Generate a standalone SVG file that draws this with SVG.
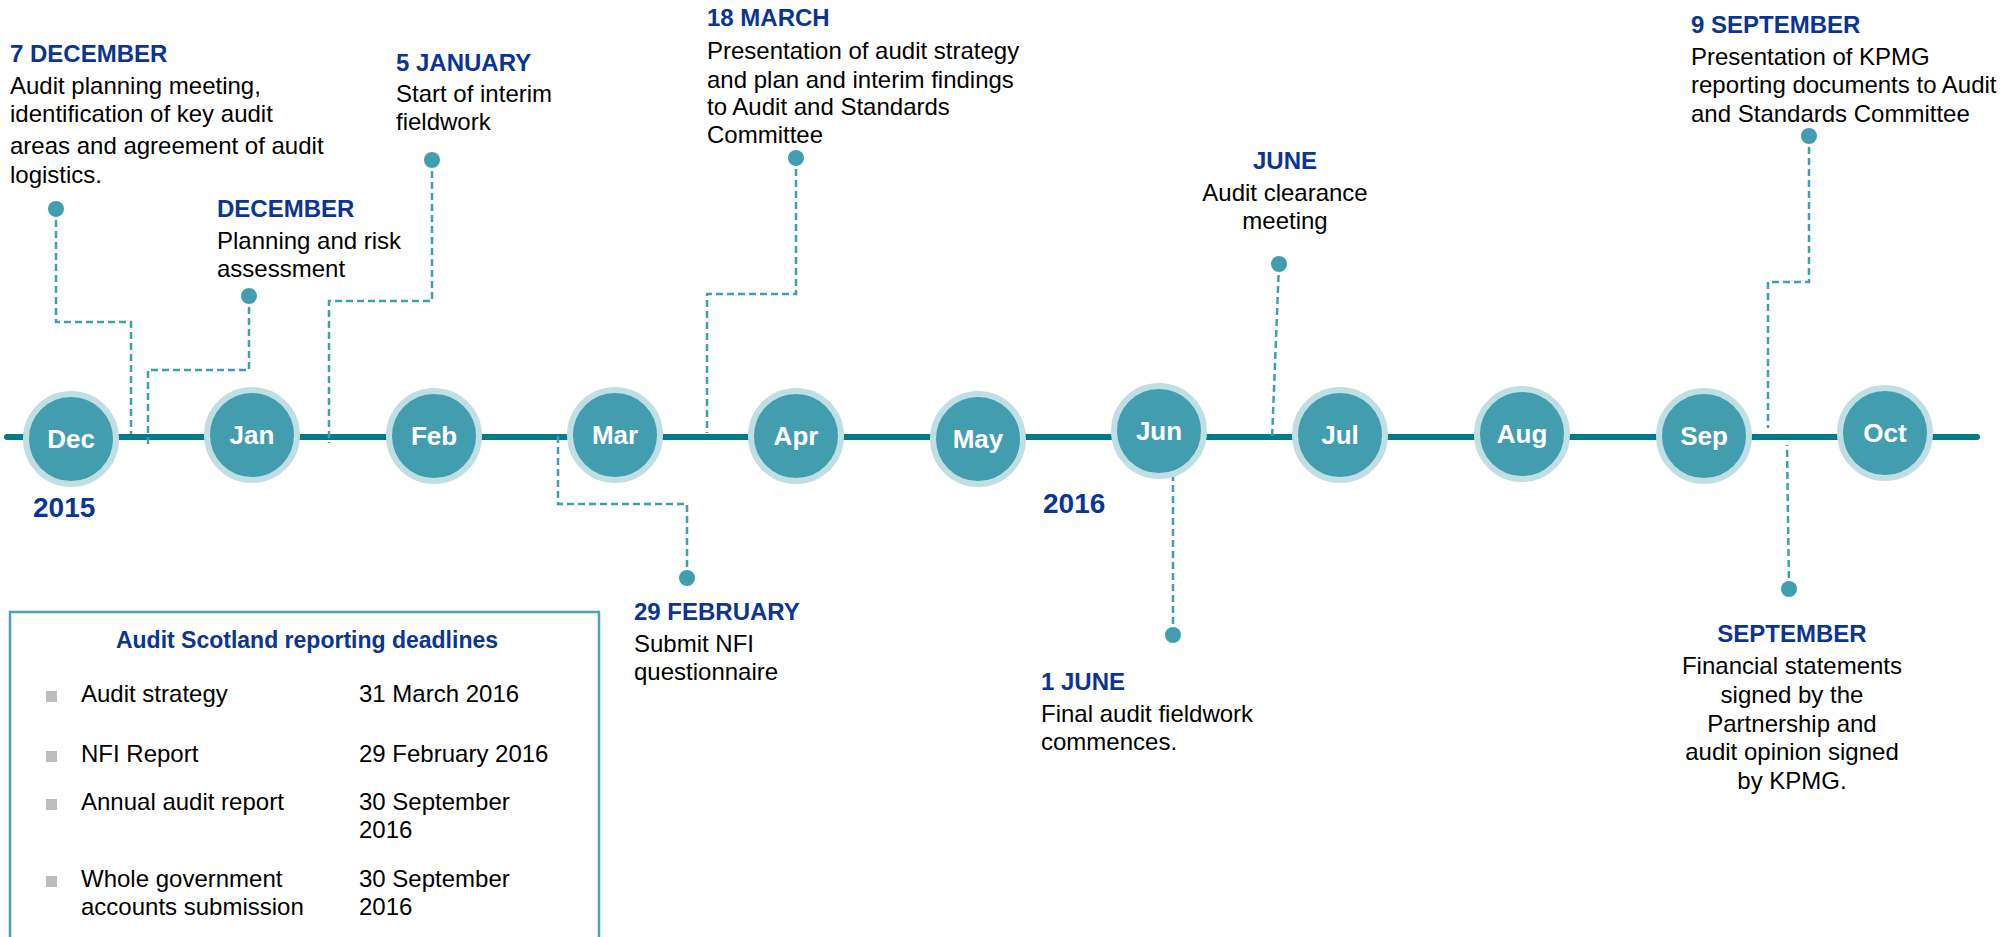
<svg xmlns="http://www.w3.org/2000/svg" width="2010" height="937" viewBox="0 0 2010 937">
<style>
.hd{font-family:"Liberation Sans",Arial,sans-serif;font-weight:bold;font-size:24px;fill:#0B3592}
.bd{font-family:"Liberation Sans",Arial,sans-serif;font-size:24px;fill:#000}
.yr{font-family:"Liberation Sans",Arial,sans-serif;font-weight:bold;font-size:28px;fill:#0B3592}
.mo{font-family:"Liberation Sans",Arial,sans-serif;font-weight:bold;font-size:26px;fill:#fff;text-anchor:middle}
.ring{fill:#429EAF;stroke:#C0DFE4;stroke-width:6}
.dot{fill:#409EAE}
.conn{fill:none;stroke:#3E9FAF;stroke-width:2.5;stroke-dasharray:7 4}
.c{text-anchor:middle}
.bul{fill:#BDBDBD}
</style>
<rect width="2010" height="937" fill="#fff"/>
<line x1="7" y1="437" x2="1977" y2="437" stroke="#007B8C" stroke-width="6" stroke-linecap="round"/>
<g id="connectors">
<path class="conn" d="M56,209 V322 H131 V434"/>
<path class="conn" d="M249,296 V370 H148 V445"/>
<path class="conn" d="M432,160 V301 H329 V443"/>
<path class="conn" d="M796,158 V294 H707 V433"/>
<path class="conn" d="M687,578 V504 H558 V432"/>
<path class="conn" d="M1279,264 L1272,439"/>
<path class="conn" d="M1173,635 V437"/>
<path class="conn" d="M1809,136 V282 H1768 V428"/>
<path class="conn" d="M1789,589 L1787,445"/>
</g>
<g id="m-dec"><circle class="ring" cx="71" cy="439" r="45"/><text class="mo" x="71" y="448">Dec</text></g>
<g id="m-jan"><circle class="ring" cx="252" cy="435" r="45"/><text class="mo" x="252" y="444">Jan</text></g>
<g id="m-feb"><circle class="ring" cx="434" cy="436" r="45"/><text class="mo" x="434" y="445">Feb</text></g>
<g id="m-mar"><circle class="ring" cx="615" cy="435" r="45"/><text class="mo" x="615" y="444">Mar</text></g>
<g id="m-apr"><circle class="ring" cx="796" cy="436" r="45"/><text class="mo" x="796" y="445">Apr</text></g>
<g id="m-may"><circle class="ring" cx="978" cy="439" r="45"/><text class="mo" x="978" y="448">May</text></g>
<g id="m-jun"><circle class="ring" cx="1159" cy="431" r="45"/><text class="mo" x="1159" y="440">Jun</text></g>
<g id="m-jul"><circle class="ring" cx="1340" cy="435" r="45"/><text class="mo" x="1340" y="444">Jul</text></g>
<g id="m-aug"><circle class="ring" cx="1522" cy="434" r="45"/><text class="mo" x="1522" y="443">Aug</text></g>
<g id="m-sep"><circle class="ring" cx="1704" cy="436" r="45"/><text class="mo" x="1704" y="445">Sep</text></g>
<g id="m-oct"><circle class="ring" cx="1885" cy="433" r="45"/><text class="mo" x="1885" y="442">Oct</text></g>
<g id="y2015"><text class="yr" x="33" y="517">2015</text></g>
<g id="y2016"><text class="yr" x="1043" y="513">2016</text></g>
<g id="e-7dec">
<circle class="dot" cx="56" cy="209" r="8"/>
<text class="hd" x="10" y="62">7 DECEMBER</text>
<text class="bd" x="10" y="94">Audit planning meeting,</text>
<text class="bd" x="10" y="122">identification of key audit</text>
<text class="bd" x="10" y="154">areas and agreement of audit</text>
<text class="bd" x="10" y="183">logistics.</text>
</g>
<g id="e-dec">
<circle class="dot" cx="249" cy="296" r="8"/>
<text class="hd" x="217" y="217">DECEMBER</text>
<text class="bd" x="217" y="249">Planning and risk</text>
<text class="bd" x="217" y="277">assessment</text>
</g>
<g id="e-5jan">
<circle class="dot" cx="432" cy="160" r="8"/>
<text class="hd" x="396" y="71">5 JANUARY</text>
<text class="bd" x="396" y="102">Start of interim</text>
<text class="bd" x="396" y="130">fieldwork</text>
</g>
<g id="e-18mar">
<circle class="dot" cx="796" cy="158" r="8"/>
<text class="hd" x="707" y="26">18 MARCH</text>
<text class="bd" x="707" y="59">Presentation of audit strategy</text>
<text class="bd" x="707" y="88">and plan and interim findings</text>
<text class="bd" x="707" y="115">to Audit and Standards</text>
<text class="bd" x="707" y="143">Committee</text>
</g>
<g id="e-29feb">
<circle class="dot" cx="687" cy="578" r="8"/>
<text class="hd" x="634" y="620">29 FEBRUARY</text>
<text class="bd" x="634" y="652">Submit NFI</text>
<text class="bd" x="634" y="680">questionnaire</text>
</g>
<g id="e-june">
<circle class="dot" cx="1279" cy="264" r="8"/>
<text class="hd c" x="1285" y="169">JUNE</text>
<text class="bd c" x="1285" y="201">Audit clearance</text>
<text class="bd c" x="1285" y="229">meeting</text>
</g>
<g id="e-1june">
<circle class="dot" cx="1173" cy="635" r="8"/>
<text class="hd" x="1041" y="690">1 JUNE</text>
<text class="bd" x="1041" y="722">Final audit fieldwork</text>
<text class="bd" x="1041" y="750">commences.</text>
</g>
<g id="e-9sep">
<circle class="dot" cx="1809" cy="136" r="8"/>
<text class="hd" x="1691" y="33">9 SEPTEMBER</text>
<text class="bd" x="1691" y="65">Presentation of KPMG</text>
<text class="bd" x="1691" y="93">reporting documents to Audit</text>
<text class="bd" x="1691" y="122">and Standards Committee</text>
</g>
<g id="e-sep">
<circle class="dot" cx="1789" cy="589" r="8"/>
<text class="hd c" x="1792" y="642">SEPTEMBER</text>
<text class="bd c" x="1792" y="674">Financial statements</text>
<text class="bd c" x="1792" y="703">signed by the</text>
<text class="bd c" x="1792" y="732">Partnership and</text>
<text class="bd c" x="1792" y="760">audit opinion signed</text>
<text class="bd c" x="1792" y="789">by KPMG.</text>
</g>
<g id="deadlines">
<rect x="10" y="612" width="589" height="360" fill="#fff" stroke="#4AA3B3" stroke-width="2.5"/>
<text class="hd c" x="307" y="648" style="font-size:23px">Audit Scotland reporting deadlines</text>
<rect class="bul" x="46" y="691" width="11" height="11"/>
<text class="bd" x="81" y="702">Audit strategy</text>
<text class="bd" x="359" y="702">31 March 2016</text>
<rect class="bul" x="46" y="751" width="11" height="11"/>
<text class="bd" x="81" y="762">NFI Report</text>
<text class="bd" x="359" y="762">29 February 2016</text>
<rect class="bul" x="46" y="799" width="11" height="11"/>
<text class="bd" x="81" y="810">Annual audit report</text>
<text class="bd" x="359" y="810">30 September</text>
<text class="bd" x="359" y="838">2016</text>
<rect class="bul" x="46" y="876" width="11" height="11"/>
<text class="bd" x="81" y="887">Whole government</text>
<text class="bd" x="81" y="915">accounts submission</text>
<text class="bd" x="359" y="887">30 September</text>
<text class="bd" x="359" y="915">2016</text>
</g>
</svg>
